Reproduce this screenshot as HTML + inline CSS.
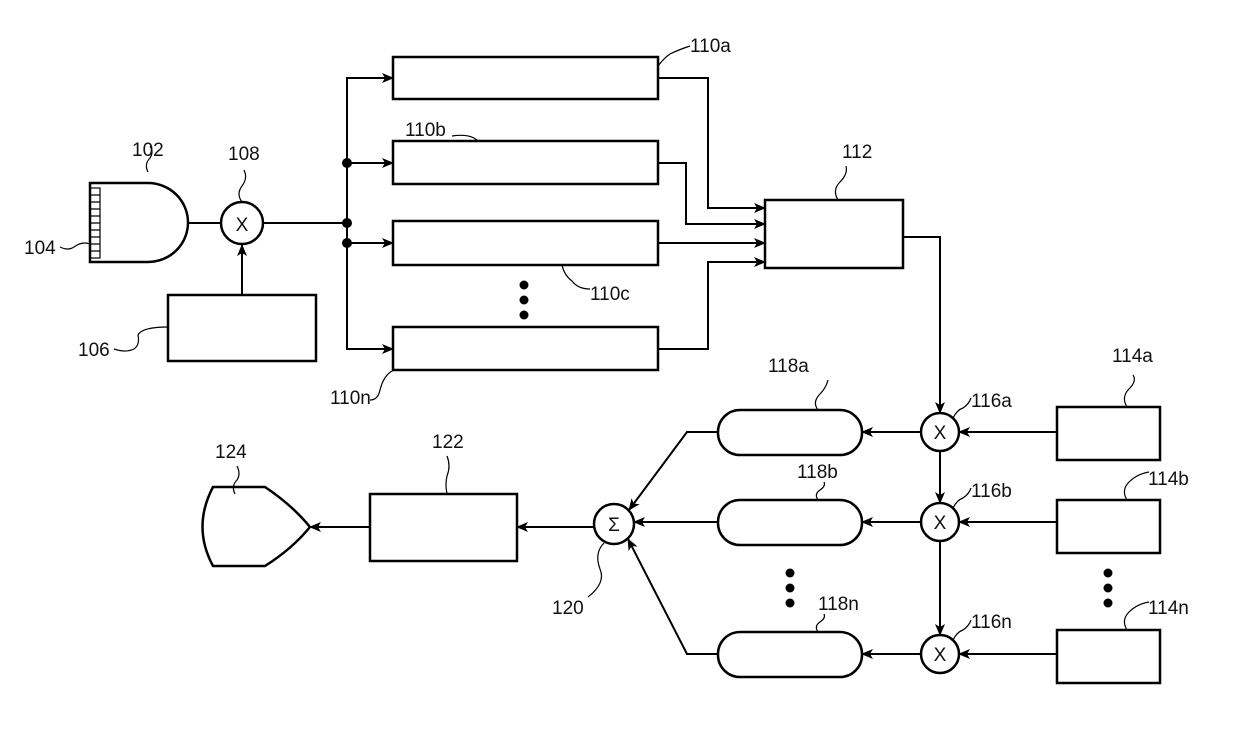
<!DOCTYPE html>
<html><head><meta charset="utf-8"><style>body{margin:0;background:#fff}svg{display:block}text{font-family:"Liberation Sans",sans-serif;font-size:19px;fill:#111}</style></head><body>
<svg width="1240" height="748" viewBox="0 0 1240 748" xmlns="http://www.w3.org/2000/svg">
<defs><marker id="a" markerWidth="12" markerHeight="10" refX="11" refY="5" orient="auto" markerUnits="userSpaceOnUse"><path d="M0,0 L12,5 L0,10 L3,5 Z" fill="#000"/></marker></defs>
<g stroke="#000" fill="none" stroke-width="2">
<path d="M90,183 H148 A40,39.5 0 0 1 148,262 H90 Z" stroke-width="2.5"/>
<g stroke-width="1.2"><rect x="90" y="188" width="10" height="70"/>
<path d="M90,195h10M90,202h10M90,209h10M90,216h10M90,223h10M90,230h10M90,237h10M90,244h10M90,251h10"/></g>
<line x1="188" y1="223" x2="221" y2="223"/>
<circle cx="242" cy="223" r="21" stroke-width="2.5"/>
<rect x="168" y="295" width="148" height="66" stroke-width="2.5"/>
<line x1="242" y1="295" x2="242" y2="245" marker-end="url(#a)"/>
<line x1="263" y1="223" x2="347" y2="223"/>
<path d="M393,78 H347 V349 H393"/>
<line x1="347" y1="78" x2="393" y2="78" marker-end="url(#a)"/>
<line x1="347" y1="163" x2="393" y2="163" marker-end="url(#a)"/>
<line x1="347" y1="243" x2="393" y2="243" marker-end="url(#a)"/>
<line x1="347" y1="349" x2="393" y2="349" marker-end="url(#a)"/>
<g stroke-width="2.5">
<rect x="393" y="57" width="265" height="42"/>
<rect x="393" y="141" width="265" height="43"/>
<rect x="393" y="221" width="265" height="44"/>
<rect x="393" y="327" width="265" height="43"/>
<rect x="765" y="200" width="138" height="68"/>
</g>
<path d="M658,78 H708 V208 H765" marker-end="url(#a)"/>
<path d="M658,163 H686 V224 H765" marker-end="url(#a)"/>
<path d="M658,243 H765" marker-end="url(#a)"/>
<path d="M658,349 H708 V262 H765" marker-end="url(#a)"/>
<path d="M903,237 H940 V413" marker-end="url(#a)"/>
<line x1="940" y1="451" x2="940" y2="503" marker-end="url(#a)"/>
<line x1="940" y1="541" x2="940" y2="635" marker-end="url(#a)"/>
<g stroke-width="2.5">
<circle cx="940" cy="432" r="19"/><circle cx="940" cy="522" r="19"/><circle cx="940" cy="654" r="19"/>
<rect x="1057" y="407" width="103" height="53"/><rect x="1057" y="500" width="103" height="53"/><rect x="1057" y="630" width="103" height="53"/>
<rect x="718" y="410" width="144" height="45" rx="22"/><rect x="718" y="500" width="144" height="45" rx="22"/><rect x="718" y="632" width="144" height="45" rx="22"/>
<circle cx="614" cy="524" r="20"/>
<rect x="370" y="494" width="147" height="67"/>
<path d="M213,487 H265 Q292,505 310,527 Q292,549 265,566 H213 Q192,527 213,487 Z"/>
</g>
<line x1="1057" y1="432" x2="959" y2="432" marker-end="url(#a)"/>
<line x1="1057" y1="522" x2="959" y2="522" marker-end="url(#a)"/>
<line x1="1057" y1="654" x2="959" y2="654" marker-end="url(#a)"/>
<line x1="921" y1="432" x2="862" y2="432" marker-end="url(#a)"/>
<line x1="921" y1="522" x2="862" y2="522" marker-end="url(#a)"/>
<line x1="921" y1="654" x2="862" y2="654" marker-end="url(#a)"/>
<path d="M718,432 H687 L629,510" marker-end="url(#a)"/>
<line x1="718" y1="522" x2="634" y2="522" marker-end="url(#a)"/>
<path d="M718,654 H687 L628,539" marker-end="url(#a)"/>
<line x1="594" y1="527" x2="517" y2="527" marker-end="url(#a)"/>
<line x1="370" y1="527" x2="310" y2="527" marker-end="url(#a)"/>
<g stroke-width="1.2">
<path d="M148,172 q-4,-8 2,-14 q4,-6 0,-12"/>
<path d="M242,202 q-6,-8 0,-16 q6,-8 2,-16"/>
<path d="M60,247 q8,4 14,0 q8,-6 16,-3"/>
<path d="M114,349 q12,4 20,0 q6,-4 4,-14 q4,-8 30,-8"/>
<path d="M658,66 q6,-8 12,-12 q8,-4 20,-8"/>
<path d="M452,136 q14,-2 22,2 q4,3 6,3"/>
<path d="M562,265 q2,10 10,16 q6,8 18,8"/>
<path d="M370,400 q8,0 10,-10 q4,-16 14,-20"/>
<path d="M838,200 q-6,-10 2,-18 q8,-8 6,-16"/>
<path d="M818,410 q-6,-8 2,-16 q6,-6 8,-14"/>
<path d="M818,500 q-4,-6 2,-10 q6,-4 4,-8"/>
<path d="M818,632 q-4,-6 2,-10 q6,-4 4,-8"/>
<path d="M953,418 q4,-8 10,-10 q6,-4 8,-10"/>
<path d="M953,508 q4,-8 10,-10 q6,-4 8,-10"/>
<path d="M953,640 q4,-8 10,-10 q6,-4 8,-10"/>
<path d="M1127,407 q-6,-10 2,-18 q8,-8 4,-14"/>
<path d="M1127,500 q-6,-10 2,-18 q8,-8 20,-10"/>
<path d="M1127,630 q-6,-10 2,-18 q8,-8 20,-10"/>
<path d="M604,543 q-10,10 -4,26 q6,14 -12,28"/>
<path d="M447,494 q-2,-10 0,-18 q4,-10 0,-20"/>
<path d="M235,494 q-4,-8 2,-14 q4,-6 0,-14"/>
</g>
</g>
<g fill="#000">
<circle cx="347" cy="163" r="5"/><circle cx="347" cy="223" r="5"/><circle cx="347" cy="243" r="5"/>
<circle cx="524" cy="285" r="4.5"/><circle cx="524" cy="300" r="4.5"/><circle cx="524" cy="315" r="4.5"/>
<circle cx="790" cy="573" r="4.5"/><circle cx="790" cy="588" r="4.5"/><circle cx="790" cy="603" r="4.5"/>
<circle cx="1108" cy="573" r="4.5"/><circle cx="1108" cy="588" r="4.5"/><circle cx="1108" cy="603" r="4.5"/>
</g>
<g text-anchor="middle" font-size="20">
<text x="242" y="231">X</text><text x="940" y="439">X</text><text x="940" y="529">X</text><text x="940" y="661">X</text>
<text x="614" y="531">Σ</text>
</g>
<text x="132" y="156">102</text>
<text x="228" y="160">108</text>
<text x="24" y="254">104</text>
<text x="78" y="356">106</text>
<text x="690" y="52">110a</text>
<text x="405" y="136">110b</text>
<text x="590" y="300">110c</text>
<text x="330" y="404">110n</text>
<text x="842" y="158">112</text>
<text x="768" y="372">118a</text>
<text x="797" y="478">118b</text>
<text x="818" y="610">118n</text>
<text x="971" y="407">116a</text>
<text x="971" y="497">116b</text>
<text x="971" y="628">116n</text>
<text x="1112" y="362">114a</text>
<text x="1148" y="485">114b</text>
<text x="1148" y="614">114n</text>
<text x="552" y="614">120</text>
<text x="432" y="448">122</text>
<text x="215" y="458">124</text>
</svg>
</body></html>
